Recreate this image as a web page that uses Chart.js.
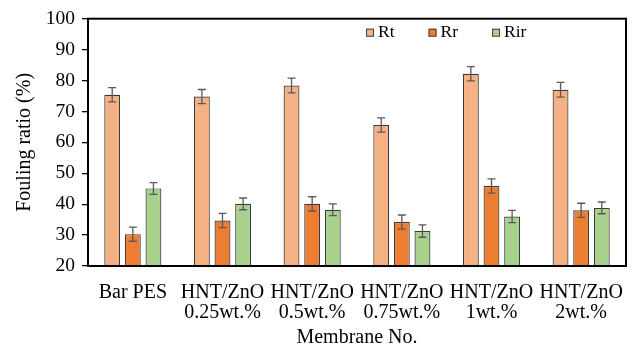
<!DOCTYPE html>
<html>
<head>
<meta charset="utf-8">
<script src="https://cdn.jsdelivr.net/npm/chart.js@4"></script>
<style>
  html, body { margin: 0; padding: 0; background: #fff; }
  #wrap { width: 640px; height: 348px; }
</style>
</head>
<body>
<div id="wrap"><canvas id="myChart"></canvas></div>
<script>
// data
var membranas = [["Bar PES"], ["HNT/ZnO", "0.25wt.%"], ["HNT/ZnO", "0.5wt.%"], ["HNT/ZnO", "0.75wt.%"], ["HNT/ZnO", "1wt.%"], ["HNT/ZnO", "2wt.%"]];
var rt = [75.4, 74.8, 78.4, 65.6, 82.2, 77.0];
var rr = [30.3, 34.7, 40.1, 34.2, 45.9, 38.0];
var rir = [45.1, 40.1, 38.2, 31.3, 36.0, 38.8];
var errRt = [2.3, 2.3, 2.4, 2.3, 2.3, 2.4];
var errRr = [2.3, 2.3, 2.3, 2.3, 2.3, 2.3];
var errRir = [1.9, 1.9, 1.9, 2.0, 2.0, 1.9];
var yMin = 20, yMax = 100, yStep = 10;

var fuente = "'Liberation Serif', 'Times New Roman', serif";

// error bars, frame and the legend inside the plot
var extras = {
  id: 'extras',
  afterDatasetsDraw: function(chart) {
    var c = chart.ctx;
    var y = chart.scales.y;
    c.save();
    c.strokeStyle = '#595959';
    c.lineWidth = 1.3;
    chart.data.datasets.forEach(function(ds, i) {
      var meta = chart.getDatasetMeta(i);
      meta.data.forEach(function(bar, j) {
        var v = ds.data[j], e = ds.errores[j];
        var top = y.getPixelForValue(v + e), bot = y.getPixelForValue(v - e);
        c.beginPath();
        c.moveTo(bar.x, top); c.lineTo(bar.x, bot);
        c.moveTo(bar.x - 4, top); c.lineTo(bar.x + 4, top);
        c.moveTo(bar.x - 4, bot); c.lineTo(bar.x + 4, bot);
        c.stroke();
      });
    });
    c.restore();
  },
  afterDraw: function(chart) {
    var c = chart.ctx;
    var a = chart.chartArea;
    c.save();
    c.strokeStyle = '#000000';
    c.lineWidth = 2;
    c.strokeRect(a.left, a.top, a.width, a.height);

    // leyenda
    c.font = '17.5px ' + fuente;
    c.textBaseline = 'middle';
    c.textAlign = 'left';
    var x = a.left + 278;
    var yc = a.top + 14;
    chart.data.datasets.forEach(function(ds) {
      c.fillStyle = ds.backgroundColor;
      c.fillRect(x, yc - 4, 8, 8);
      c.strokeStyle = '#404040';
      c.lineWidth = 1;
      c.strokeRect(x + 0.5, yc - 3.5, 7, 7);
      c.fillStyle = '#000';
      c.fillText(ds.label, x + 12, yc);
      x += 12 + c.measureText(ds.label).width + 34;
    });
    c.restore();
  }
};

function serie(nombre, datos, errores, color) {
  return {
    label: nombre,
    data: datos,
    errores: errores,
    backgroundColor: color,
    borderColor: '#3a3a3a',
    borderWidth: 1.2,
    borderSkipped: false,
    barPercentage: 0.77,
    categoryPercentage: 0.69
  };
}

var ctx = document.getElementById('myChart').getContext('2d');
var chart = new Chart(ctx, {
  type: 'bar',
  data: {
    labels: membranas,
    datasets: [
      serie('Rt', rt, errRt, '#F4B183'),
      serie('Rr', rr, errRr, '#ED7D31'),
      serie('Rir', rir, errRir, '#A9D18E')
    ]
  },
  options: {
    responsive: true,
    maintainAspectRatio: false,
    animation: false,
    devicePixelRatio: 1,
    layout: { padding: { left: 5, top: 18, right: 14, bottom: 0 } },
    plugins: {
      legend: { display: false },
      tooltip: { enabled: false }
    },
    scales: {
      x: {
        grid: { display: false },
        border: { display: false },
        ticks: {
          color: '#000',
          padding: 9,
          maxRotation: 0,
          autoSkip: false,
          font: { family: fuente, size: 20, lineHeight: 1.0 }
        },
        title: {
          display: true,
          text: 'Membrane No.',
          color: '#000',
          padding: 0,
          font: { family: fuente, size: 20, lineHeight: 1.0 }
        },
        afterFit: function(s) { s.height = 82; }
      },
      y: {
        min: yMin,
        max: yMax,
        grid: { drawOnChartArea: false, color: '#000', tickLength: 6, lineWidth: 1.3 },
        border: { display: false },
        ticks: {
          stepSize: yStep,
          color: '#000',
          padding: 7,
          font: { family: fuente, size: 19.5 }
        },
        title: {
          display: true,
          text: 'Fouling ratio (%)',
          color: '#000',
          padding: { top: 8, bottom: 0 },
          font: { family: fuente, size: 20, lineHeight: 1.2 }
        },
        afterFit: function(s) { s.width = 83; }
      }
    }
  },
  plugins: [extras]
});
</script>
</body>
</html>
